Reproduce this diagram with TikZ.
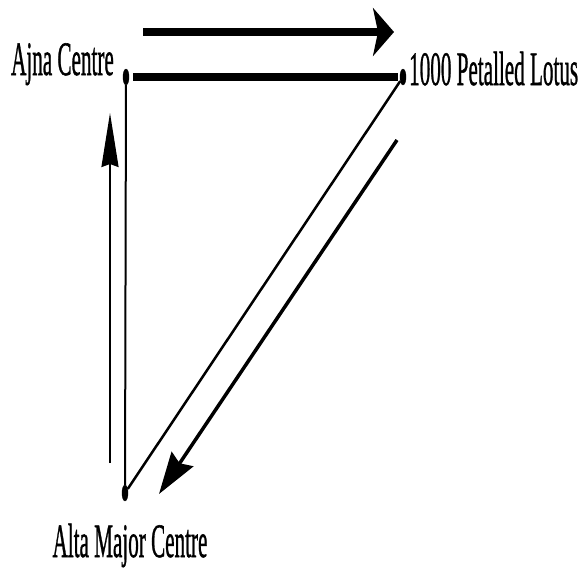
\documentclass[tikz,border=0pt]{standalone}
\usepackage{fontspec}
\setmainfont{Liberation Serif}
\newfontfamily\labelfont{Liberation Serif}[FakeBold=1.2]
\usetikzlibrary{arrows.meta,shapes.geometric}

\tikzset{
  dot/.style={ellipse, fill, draw, minimum width=6pt, minimum height=16pt, inner sep=0pt},
  place/.style={inner sep=0pt, font=\labelfont\fontsize{48}{50}\selectfont},
  flow/.style={line width=2pt},
}
\newcommand{\narrow}[1]{\scalebox{0.44}[1]{#1}}

\begin{document}
\begin{tikzpicture}[x=1pt, y=-1pt]
    \useasboundingbox (0,0) rectangle (587,576);
    % centres
    \node[dot] (ajna) at (126,77) {};
    \node[dot] (lotus) at (403,77) {};
    \node[dot] (alta) at (125,493) {};
    % labels
    \node[place, anchor=base east] (ajnatext) at (114,75) {\narrow{Ajna Centre}};
    \node[place, anchor=base west] (lotustext) at (409,85) {\narrow{1000 Petalled Lotus}};
    \node[place, anchor=base] (altatext) at (130,557) {\narrow{Alta Major Centre}};
    % paths between the centres
    \draw[line width=7.5pt, shorten <=4pt, shorten >=2pt] (ajna) -- (lotus);
    \draw[flow] (ajna) -- (alta);
    \draw[flow, line width=2.5pt] (alta) -- (lotus);
    % direction of flow
    \coordinate (topA) at (143,32);
    \coordinate (topB) at (394,32);
    \coordinate (leftA) at (110,463);
    \coordinate (leftB) at (110,113);
    \coordinate (diagA) at (397,140);
    \coordinate (diagB) at (159,494);
    \draw[line width=7.5pt, -{Stealth[length=21pt, width=48pt, inset=5pt]}] (topA) -- (topB);
    \draw[flow, -{Stealth[length=54pt, width=17pt, inset=3pt]}] (leftA) -- (leftB);
    \draw[line width=3.5pt, -{Stealth[length=42pt, width=26pt, inset=5pt]}] (diagA) -- (diagB);
\end{tikzpicture}
\end{document}
